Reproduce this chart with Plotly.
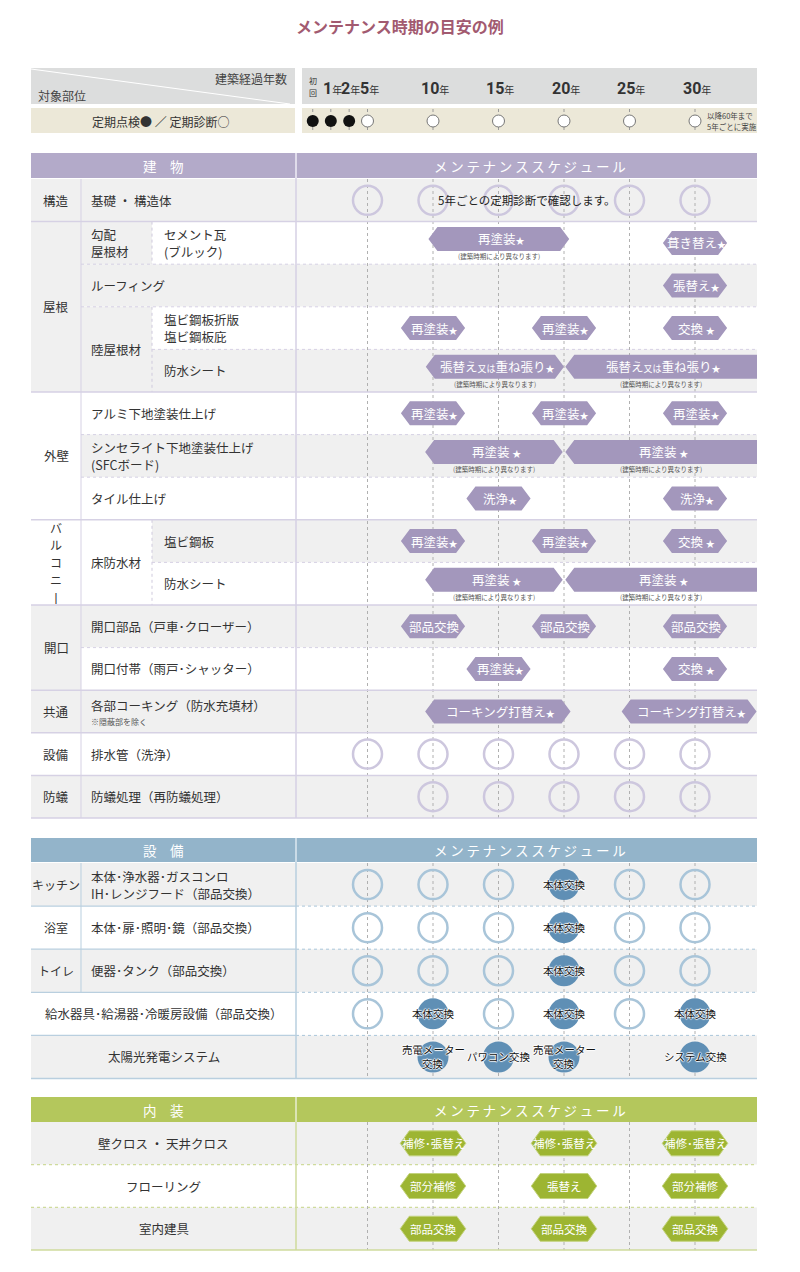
import plotly.graph_objects as go

JP = "Noto Sans CJK JP, Noto Sans, sans-serif"
NUM = "Liberation Sans Narrow, Roboto, sans-serif"

# ---- 年数軸 ----
years = [5, 10, 15, 20, 25, 30]
slot_labels = ["初回", "1", "2", "5", "10", "15", "20", "25", "30"]
slot_marks = ["●", "●", "●", "○", "○", "○", "○", "○", "○"]   # ●定期点検 / ○定期診断
slot_pos = [0.82, 2.2, 3.6, 5, 10, 15, 20, 25, 30]   # 初回〜2年は詰めて表示

# ---- 建物 ----
bld_cats = ["構造", "屋根", "外壁", "バルコニー", "開口", "共通", "設備", "防蟻"]
bld_cat_rows = [1, 4, 3, 2, 2, 1, 1, 1]
bld_items = [
    "基礎 ・ 構造体",
    "セメント瓦<br>(ブルック)",
    "ルーフィング",
    "塩ビ鋼板折版<br>塩ビ鋼板庇",
    "防水シート",
    "アルミ下地塗装仕上げ",
    "シンセライト下地塗装仕上げ<br>(SFCボード)",
    "タイル仕上げ",
    "塩ビ鋼板",
    "防水シート",
    "開口部品（戸車･クローザー）",
    "開口付帯（雨戸･シャッター）",
    "各部コーキング（防水充填材）",
    "排水管（洗浄）",
    "防蟻処理（再防蟻処理）",
]
bld_subs = [(1, 1, "勾配<br>屋根材"), (3, 2, "陸屋根材"), (8, 2, "床防水材")]  # (開始行, 行数, 名称)
bld_check = {0: years, 13: years, 14: years[1:]}
check_note = "5年ごとの定期診断で確認します。"
# (行, 年, 内容)
bld_single = [
    (1, 30, "葺き替え★"),
    (2, 30, "張替え★"),
    (3, 10, "再塗装★"), (3, 20, "再塗装★"), (3, 30, "交換 ★"),
    (5, 10, "再塗装★"), (5, 20, "再塗装★"), (5, 30, "再塗装★"),
    (7, 15, "洗浄★"), (7, 30, "洗浄★"),
    (8, 10, "再塗装★"), (8, 20, "再塗装★"), (8, 30, "交換 ★"),
    (10, 10, "部品交換"), (10, 20, "部品交換"), (10, 30, "部品交換"),
    (11, 15, "再塗装★"), (11, 30, "交換 ★"),
]
# (行, 開始年, 終了年, 内容, 注記あり)  終了年 None = 以降も継続
bld_span = [
    (1, 9.65, 20.4, "再塗装★", True),
    (4, 9.45, 20.0, "張替え<span style='font-size:9px'>又は</span>重ね張り★", True),
    (4, 20.1, None, "張替え<span style='font-size:9px'>又は</span>重ね張り★", True),
    (6, 9.4, 19.9, "再塗装 ★", True),
    (6, 20.1, None, "再塗装 ★", True),
    (9, 9.4, 19.9, "再塗装 ★", True),
    (9, 20.1, None, "再塗装 ★", True),
    (12, 9.4, 20.5, "コーキング打替え★", False),
    (12, 24.4, 34.7, "コーキング打替え★", False),
]
span_note = "(建築時期により異なります)"

# ---- 設備 ----
eq_cats = ["キッチン", "浴室", "トイレ", None, None]
eq_items = [
    "本体･浄水器･ガスコンロ<br>IH･レンジフード（部品交換）",
    "本体･扉･照明･鏡（部品交換）",
    "便器･タンク（部品交換）",
    "給水器具･給湯器･冷暖房設備（部品交換）",
    "太陽光発電システム",
]
eq_check = [[5, 10, 15, 25, 30], [5, 10, 15, 25, 30], [5, 10, 15, 25, 30], [5, 15, 25], []]
eq_swap = [
    [(20, "本体交換")],
    [(20, "本体交換")],
    [(20, "本体交換")],
    [(10, "本体交換"), (20, "本体交換"), (30, "本体交換")],
    [(10, "売電メーター<br>交換"), (15, "パワコン交換"), (20, "売電メーター<br>交換"), (30, "システム交換")],
]

# ---- 内装 ----
in_items = ["壁クロス ・ 天井クロス", "フローリング", "室内建具"]
in_years = [10, 20, 30]
in_tasks = [
    ["補修･張替え", "補修･張替え", "補修･張替え"],
    ["部分補修", "張替え", "部分補修"],
    ["部品交換", "部品交換", "部品交換"],
]

# ---- レイアウト ----
PX0, PPY = 302, 13.1          # 0年の位置と1年あたりのpx
TIP = 9 / PPY
END = (757 - PX0) / PPY
L0, LC, LS, LR, R1 = 31, 81, 152, 296, 757
GRAY = "#f0f0f0"
PURPLE, PURPLE_HEX, PURPLE_LINE, PURPLE_CIR = "#b3aac9", "#a397bc", "#d6d1e4", "#cdc7de"
BLUE, BLUE_FILL, BLUE_LINE, BLUE_CIR = "#93b4ca", "#5f8fb5", "#b9cfdf", "#a9c5d9"
GREEN, GREEN_HEX, GREEN_LINE = "#b4c75c", "#9db532", "#cfdb9c"

shapes, ann = [], []


def box(x0, x1, y0, y1, color):
    shapes.append(dict(type="rect", xref="x2", yref="y", x0=x0, x1=x1, y0=y0, y1=y1,
                       fillcolor=color, line_width=0, layer="below"))


def line(x0, x1, y0, y1, color, dash="solid", width=1, xref="x2"):
    shapes.append(dict(type="line", xref=xref, yref="y", x0=x0, x1=x1, y0=y0, y1=y1,
                       line=dict(color=color, width=width, dash=dash), layer="below"))


def text(x, y, s, size=12.5, color="#333", xanchor="center", xref="x2", family=JP, **kw):
    ann.append(dict(x=x, y=y, xref=xref, yref="y", text=s, showarrow=False, xanchor=xanchor,
                    yanchor="middle", align="left" if xanchor == "left" else "center",
                    font=dict(family=family, size=size, color=color, **kw.pop("font", {})), **kw))


def lines_text(x, yc, s, gap=17, **kw):
    # 複数行は1行ずつ置く
    parts = s.split("<br>")
    for k, p in enumerate(parts):
        text(x, yc + (k - (len(parts) - 1) / 2) * gap, p, **kw)


def small_star(s):
    return s.replace("★", "<span style='font-size:9px'>★</span>")


def hexagon(xs, ys, x0, x1, yc, open_end=False, hh=12):
    if open_end:
        xs += [x0, x0 + TIP, x1, x1, x0 + TIP, x0, None]
        ys += [yc, yc - hh, yc - hh, yc + hh, yc + hh, yc, None]
    else:
        xs += [x0, x0 + TIP, x1 - TIP, x1, x1 - TIP, x0 + TIP, x0, None]
        ys += [yc, yc - hh, yc - hh, yc, yc + hh, yc + hh, yc, None]


def section_header(y0, y1, color, name):
    box(L0, LR - 1, y0, y1, color)
    box(LR + 1, R1, y0, y1, color)
    text((L0 + LR) / 2, (y0 + y1) / 2, name, size=13.5, color="white")
    text((PX0 + R1) / 2, (y0 + y1) / 2, "\u2009".join("メンテナンススケジュール"),
         size=13.5, color="white")


fig = go.Figure()

# タイトル
text(400, 26, "<b>メンテナンス時期の目安の例</b>", size=16, color="#a25a70")

# ヘッダー1: 経過年数
box(L0, LR - 1, 68, 104, "#dcdddd")
box(PX0, R1, 68, 104, "#dcdddd")
line(L0, 290, 69, 104, "white", width=1)
text(289, 78, "建築経過年数", size=12, color="#444", xanchor="right")
text(36, 95, "対象部位", size=12, color="#444", xanchor="left")
for lab, pos in zip(slot_labels, slot_pos):
    if lab == "初回":
        text(pos, 80, "初", size=8, color="#333", xref="x")
        text(pos, 92, "回", size=8, color="#333", xref="x")
    else:
        text(pos + 0.12, 88, f"<b>{lab}</b><span style='font-size:10px;font-family:Noto Sans CJK JP'>年</span>",
             size=16, color="#333", xref="x", family=NUM)

# ヘッダー2: 点検/診断
box(L0, LR - 1, 108, 133, "#ece8d8")
box(PX0, R1, 108, 133, "#ece8d8")
text(160, 121, "定期点検● ／ 定期診断○", size=12, color="#333")
for pos in slot_pos:
    line(pos, pos, 109, 133, "#9a9a9a", dash="dot", xref="x")
text(30.8, 115, "以降60年まで", size=7.5, color="#444", xanchor="left", xref="x")
text(30.8, 126, "5年ごとに実施", size=7.5, color="#444", xanchor="left", xref="x")
fill_pos = [p for p, m in zip(slot_pos, slot_marks) if m == "●"]
open_pos = [p for p, m in zip(slot_pos, slot_marks) if m == "○"]
fig.add_trace(go.Scatter(x=fill_pos, y=[121] * len(fill_pos), mode="markers",
                         marker=dict(size=12, color="#111", line=dict(width=0)), hoverinfo="skip"))
fig.add_trace(go.Scatter(x=open_pos, y=[121] * len(open_pos), mode="markers",
                         marker=dict(size=12, color="white", line=dict(width=1, color="#777")),
                         hoverinfo="skip"))

# ---- 建物セクション ----
section_header(153, 178, PURPLE, "建\u3000物")
B0, BH = 179, 42.6
n_b = len(bld_items)
B1 = B0 + n_b * BH
cat_white = {"外壁", "バルコニー", "設備"}
sub_white = {"床防水材"}
sub_rows = {}
for r0, n, name in bld_subs:
    for k in range(n):
        sub_rows[r0 + k] = (r0, n, name)

for i, item in enumerate(bld_items):
    y0, y1 = B0 + i * BH, B0 + (i + 1) * BH
    bg = GRAY if i % 2 == 0 else "white"
    box(LC, R1, y0, y1, bg)
    xi = LS + 10 if i in sub_rows else LC + 8
    if i == 12:
        text(xi, (y0 + y1) / 2 - 6, item, xanchor="left")
        text(xi, (y0 + y1) / 2 + 10, "※隠蔽部を除く", size=8, color="#555", xanchor="left")
    else:
        lines_text(xi, (y0 + y1) / 2, item, xanchor="left")

# 小分類
for r0, n, name in bld_subs:
    y0, y1 = B0 + r0 * BH, B0 + (r0 + n) * BH
    box(LC, LS, y0, y1, "white" if name in sub_white else GRAY)
    lines_text(LC + 8, (y0 + y1) / 2, name, xanchor="left")
    line(LS, LS, y0, y1, "#cfcadd", dash="dot")

# 大分類
r = 0
cat_bounds = []
for cat, n in zip(bld_cats, bld_cat_rows):
    y0, y1 = B0 + r * BH, B0 + (r + n) * BH
    box(L0, LC, y0, y1, "white" if cat in cat_white else GRAY)
    yc = (y0 + y1) / 2
    if len(cat) > 3:
        # 縦書き (長音は縦棒)
        lines_text((L0 + LC) / 2, yc, "<br>".join(cat.replace("ー", "丨")), gap=17.5, size=12)
    else:
        text((L0 + LC) / 2, yc, cat)
    cat_bounds.append(r)
    r += n

# 罫線
for i in range(1, n_b):
    y = B0 + i * BH
    if i in cat_bounds:
        continue
    x_start = LS if (i in sub_rows and sub_rows[i][0] != i) else LC
    line(x_start, R1, y, y, PURPLE_LINE, dash="dot")
for yr in years:
    line(yr, yr, B0, B1, "#b0b0b0", dash="dot", xref="x")
for rr in cat_bounds[1:]:
    y = B0 + rr * BH
    line(L0, R1, y, y, PURPLE_LINE, width=1.5)
line(L0, R1, B1, B1, PURPLE_LINE, width=1.5)
line(LC, LC, B0, B1, PURPLE_LINE, width=1)
line(LR, LR, 153, B1, PURPLE_LINE, width=1.5)

# 定期診断の丸
cx, cy = [], []
for row, ys_ in bld_check.items():
    for yr in ys_:
        cx.append(yr)
        cy.append(B0 + (row + 0.5) * BH)
fig.add_trace(go.Scatter(x=cx, y=cy, mode="markers", hoverinfo="skip",
                         marker=dict(size=29, color="rgba(0,0,0,0)", line=dict(width=2.5, color=PURPLE_CIR))))
text(17.2, B0 + 0.5 * BH, check_note, size=11.5, color="#222", xref="x")

# 作業の六角形
hx, hy = [], []
for row, yr, lab in bld_single:
    yc = B0 + (row + 0.5) * BH
    hexagon(hx, hy, yr - 2.45, yr + 2.45, yc)
    text(yr + 0.15, yc, small_star(lab), size=12.5, color="white", xref="x")
for row, a, b, lab, note in bld_span:
    yc = B0 + (row + 0.5) * BH - (4 if note else 0)
    open_end = b is None
    b = END if open_end else b
    hexagon(hx, hy, a, b, yc, open_end=open_end)
    text((a + b) / 2 + 0.2, yc, small_star(lab), size=12.5, color="white", xref="x")
    if note:
        text((a + b) / 2, yc + 17, span_note, size=6.5, color="#555", xref="x")
fig.add_trace(go.Scatter(x=hx, y=hy, mode="lines", fill="toself", fillcolor=PURPLE_HEX,
                         line=dict(width=0, color=PURPLE_HEX), hoverinfo="skip"))

# ---- 設備セクション ----
section_header(838, 862, BLUE, "設\u3000備")
E0, EH = 863, 43.1
n_e = len(eq_items)
E1 = E0 + n_e * EH
for i, item in enumerate(eq_items):
    y0, y1 = E0 + i * EH, E0 + (i + 1) * EH
    box(L0, R1, y0, y1, GRAY if i % 2 == 0 else "white")
    yc = (y0 + y1) / 2
    if eq_cats[i]:
        text((L0 + LC) / 2, yc, eq_cats[i], size=12)
        lines_text(LC + 8, yc, item, xanchor="left")
    else:
        text((L0 + LR) / 2, yc, item)
    if i > 0:
        line(L0, LR, y0, y0, BLUE_LINE, width=1.2)
        line(LR, R1, y0, y0, BLUE_CIR, dash="dot", width=1)
line(LC, LC, E0, E0 + 3 * EH, BLUE_LINE, width=1)
for yr in years:
    line(yr, yr, E0, E1, "#b0b0b0", dash="dot", xref="x")
line(L0, R1, E1, E1, BLUE_LINE, width=1.5)
line(LR, LR, 838, E1, BLUE_LINE, width=1.5)

ox, oy, fx, fy, ft = [], [], [], [], []
for i in range(n_e):
    yc = E0 + (i + 0.5) * EH
    for yr in eq_check[i]:
        ox.append(yr)
        oy.append(yc)
    for yr, lab in eq_swap[i]:
        fx.append(yr)
        fy.append(yc)
        ft.append(lab)
fig.add_trace(go.Scatter(x=ox, y=oy, mode="markers", hoverinfo="skip",
                         marker=dict(size=29, color="rgba(0,0,0,0)", line=dict(width=2.5, color=BLUE_CIR))))
fig.add_trace(go.Scatter(x=fx, y=fy, mode="markers", hoverinfo="skip",
                         marker=dict(size=31, color=BLUE_FILL, line=dict(width=0))))
halo = "1px 0 1px #fff, -1px 0 1px #fff, 0 1px 1px #fff, 0 -1px 1px #fff"
for x, y, t in zip(fx, fy, ft):
    lines_text(x, y, t, gap=14, size=10.5, color="#111", xref="x", font=dict(shadow=halo))

# ---- 内装セクション ----
section_header(1097, 1122, GREEN, "内\u3000装")
I0, IH = 1122, 42.7
n_i = len(in_items)
I1 = I0 + n_i * IH
gx, gy = [], []
for i, item in enumerate(in_items):
    y0, y1 = I0 + i * IH, I0 + (i + 1) * IH
    yc = (y0 + y1) / 2
    box(L0, R1, y0, y1, GRAY if i % 2 == 0 else "white")
    text((L0 + LR) / 2, yc, item)
    if i > 0:
        line(L0, R1, y0, y0, GREEN_LINE, dash="dot", width=1.2)
    for yr, lab in zip(in_years, in_tasks[i]):
        hexagon(gx, gy, yr - 2.5, yr + 2.5, yc, hh=12.5)
        text(yr, yc, lab, size=11.5, color="white", xref="x")
for yr in years:
    line(yr, yr, I0, I1, "#b0b0b0", dash="dot", xref="x")
line(L0, R1, I1, I1, GREEN_LINE, width=1.5)
line(LR, LR, 1097, I1, GREEN_LINE, width=1.5)
fig.add_trace(go.Scatter(x=gx, y=gy, mode="lines", fill="toself", fillcolor=GREEN_HEX,
                         line=dict(width=1, color="#c3d27c"), hoverinfo="skip"))

# x2 軸用のダミー
fig.add_trace(go.Scatter(x=[0, 800], y=[-10, -10], xaxis="x2", mode="markers",
                         marker=dict(size=1, color="rgba(0,0,0,0)"), hoverinfo="skip"))

fig.update_layout(
    width=800, height=1272,
    margin=dict(l=0, r=0, t=0, b=0),
    paper_bgcolor="white", plot_bgcolor="white",
    showlegend=False,
    xaxis=dict(range=[-PX0 / PPY, (800 - PX0) / PPY], visible=False, fixedrange=True),
    xaxis2=dict(range=[0, 800], overlaying="x", visible=False, fixedrange=True),
    yaxis=dict(range=[1272, 0], visible=False, fixedrange=True),
    shapes=shapes,
    annotations=ann,
)

# ページ余白をなくして 800x1272 に合わせる
fig.write_html("out.html", config={"displayModeBar": False},
               post_script="document.body.style.margin='0';")
